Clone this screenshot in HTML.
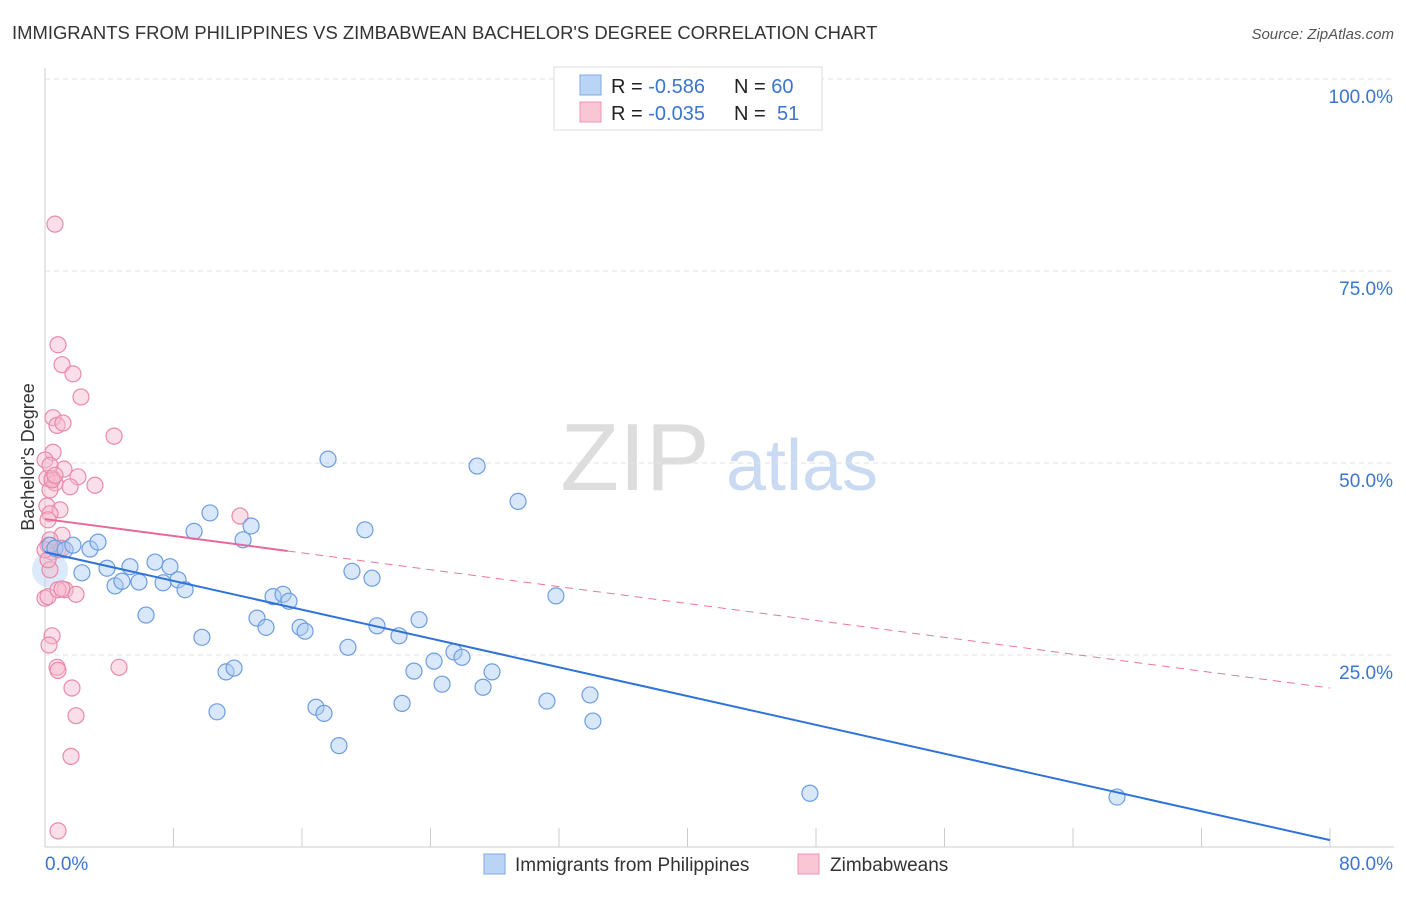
<!DOCTYPE html>
<html><head><meta charset="utf-8"><style>
body{margin:0;background:#fff;font-family:"Liberation Sans",sans-serif}
svg text{font-family:"Liberation Sans",sans-serif}
</style></head><body>
<svg id="chart" width="1406" height="892" viewBox="0 0 1406 892">
<text x="12" y="39" font-size="18.45" fill="#333">IMMIGRANTS FROM PHILIPPINES VS ZIMBABWEAN BACHELOR'S DEGREE CORRELATION CHART</text>
<text x="1394" y="39" font-size="15" fill="#555" font-style="italic" text-anchor="end">Source: ZipAtlas.com</text>
<g>
<text x="635" y="490" font-size="96" fill="#ddd" font-family="Liberation Serif" text-anchor="middle">ZIP</text>
<text x="802" y="490" font-size="72" fill="#c9daf2" text-anchor="middle">atlas</text>
</g>
<text transform="translate(34,457) rotate(-90)" font-size="18" fill="#333" text-anchor="middle">Bachelor's Degree</text>
<g id="grid"></g><g id="axes"></g><g id="marks"></g>
<g>
<rect x="554" y="67" width="268" height="63" fill="#fff" stroke="#ddd"/>
<rect x="580" y="75" width="21" height="20" fill="#b9d4f5" stroke="#7eaae6"/>
<rect x="580" y="102" width="21" height="20" fill="#f9c6d6" stroke="#ea95b1"/>
<text x="611" y="93" font-size="20" fill="#222">R = <tspan fill="#3a75d0">-0.586</tspan><tspan x="734">N = </tspan><tspan fill="#3a75d0">60</tspan></text>
<text x="611" y="120" font-size="20" fill="#222">R = <tspan fill="#3a75d0">-0.035</tspan><tspan x="734">N = </tspan><tspan fill="#3a75d0" x="777">51</tspan></text>
</g>
<g>
<rect x="484" y="854" width="21" height="20" fill="#b9d4f5" stroke="#7eaae6"/>
<text x="515" y="871" font-size="19" fill="#333">Immigrants from Philippines</text>
<rect x="798" y="854" width="21" height="20" fill="#f9c6d6" stroke="#ea95b1"/>
<text x="830" y="871" font-size="19" fill="#333">Zimbabweans</text>
</g>
</svg>
<script>
const yTicks=[25,50,75,100];
const yTickLabels=["25.0%","50.0%","75.0%","100.0%"];
const xEndLabels=["0.0%","80.0%"];
const blueX=[0.31,0.62,1.25,1.74,2.30,2.80,3.30,3.86,4.36,4.79,5.29,5.85,6.29,6.85,7.35,7.78,8.28,8.72,9.28,9.77,10.27,10.71,11.27,11.77,12.33,12.83,13.20,13.76,14.20,14.82,15.19,15.88,16.19,16.87,17.37,17.62,18.30,18.86,19.11,19.92,20.36,20.67,22.04,22.23,22.97,23.29,24.22,24.72,25.46,25.96,26.90,27.27,27.83,29.45,31.25,31.81,33.93,34.11,47.62,66.74];
const blueY=[39.3,38.9,38.7,39.3,35.7,38.8,39.7,36.3,34.0,34.6,36.5,34.5,30.2,37.1,34.4,36.5,34.8,33.5,41.1,27.3,43.5,17.6,22.8,23.3,40.0,41.8,29.8,28.6,32.6,32.9,32.0,28.6,28.1,18.2,17.4,50.5,13.2,26.0,35.9,41.3,35.0,28.8,27.5,18.7,22.9,29.6,24.2,21.2,25.4,24.7,49.6,20.8,22.8,45.0,19.0,32.7,19.8,16.4,7.0,6.5];
const pinkX=[0.62,0.19,0.44,0.31,0.0,0.19,0.44,0.25,0.75,0.81,1.68,1.93,1.62,0.81,0.81,1.06,1.74,2.24,0.50,0.75,1.12,4.30,0.50,1.18,2.05,3.11,1.56,0.44,0.12,0.62,0.31,0.12,0.93,0.31,1.06,12.14,0.81,1.06,1.25,1.93,0.81,4.61,0.31,0.0,0.44,0.0,0.31,0.62,0.19,1.06,0.19];
const pinkY=[81.1,39.3,38.4,36.1,32.4,32.6,27.5,26.3,23.4,23.0,20.7,17.1,11.8,2.1,65.4,62.8,61.6,58.6,55.9,54.9,55.2,53.5,51.4,49.2,48.2,47.1,46.9,48.0,48.0,47.4,46.5,44.4,43.9,43.4,40.6,43.1,38.7,38.9,33.5,32.9,33.5,23.4,40.0,38.7,47.8,50.4,49.7,48.4,42.6,33.6,37.4];
const blueTrend=[38.4,0.9];
const pinkTrend=[42.7,20.7];
const pinkSolidEnd=15.1;
const NS="http://www.w3.org/2000/svg";
const X0=45,X1=1330,Y0=847,Y100=79;
const sx=v=>X0+(v/80)*(X1-X0);
const sy=v=>Y0-(v/100)*(Y0-Y100);
function mk(tag,attrs,parent){const e=document.createElementNS(NS,tag);for(const k in attrs)e.setAttribute(k,attrs[k]);parent.appendChild(e);return e;}
const grid=document.getElementById('grid'),axes=document.getElementById('axes'),marks=document.getElementById('marks');
yTicks.forEach((t,i)=>{
 const l=mk('line',{x1:X0,x2:1394,y1:sy(t),y2:sy(t),stroke:'#e2e2e2','stroke-dasharray':'5,4'},grid);
 
 
 const tx=mk('text',{x:1393,y:sy(t)+24,'font-size':19,fill:'#3a75d0','text-anchor':'end'},axes);
 tx.textContent=yTickLabels[i];
 
 
});
const ya=mk('line',{x1:X0,x2:X0,y1:68,y2:Y0,stroke:'#ccc'},axes);


const xa=mk('line',{x1:X0,x2:1394,y1:Y0,y2:Y0,stroke:'#ccc'},axes);


for(let v=0;v<=80;v+=8){
 const t=mk('line',{x1:sx(v),x2:sx(v),y1:828,y2:Y0,stroke:'#ccc'},axes);
 
 
}
[[0,'start'],[80,'end']].forEach((p,i)=>{
 const tx=mk('text',{x:i?1393:45,y:870,'font-size':19,fill:'#3a75d0','text-anchor':p[1]},axes);
 tx.textContent=xEndLabels[i];
 
 
});
const big=mk('circle',{cx:sx(0.31),cy:sy(36.1),r:18,fill:'#b9d4f5','fill-opacity':0.5,stroke:'none'},marks);


pinkX.forEach((x,i)=>{
 const c=mk('circle',{cx:sx(x),cy:sy(pinkY[i]),r:8,fill:'#f7b9cd','fill-opacity':0.45,stroke:'#e98aaa','stroke-width':1.2},marks);
 
 
});
blueX.forEach((x,i)=>{
 const c=mk('circle',{cx:sx(x),cy:sy(blueY[i]),r:8,fill:'#a9c9f1','fill-opacity':0.45,stroke:'#6d9de0','stroke-width':1.2},marks);
 
 
});
const pAt=x=>pinkTrend[0]+(pinkTrend[1]-pinkTrend[0])*x/80;
const pd=mk('line',{x1:sx(pinkSolidEnd),y1:sy(pAt(pinkSolidEnd)),x2:sx(80),y2:sy(pinkTrend[1]),stroke:'#e8779c','stroke-width':1,'stroke-dasharray':'8,6'},marks);


const ps=mk('line',{x1:sx(0),y1:sy(pinkTrend[0]),x2:sx(pinkSolidEnd),y2:sy(pAt(pinkSolidEnd)),stroke:'#e8689a','stroke-width':2},marks);


const bl=mk('line',{x1:sx(0),y1:sy(blueTrend[0]),x2:sx(80),y2:sy(blueTrend[1]),stroke:'#2f73d8','stroke-width':2},marks);


</script>
</body></html>
